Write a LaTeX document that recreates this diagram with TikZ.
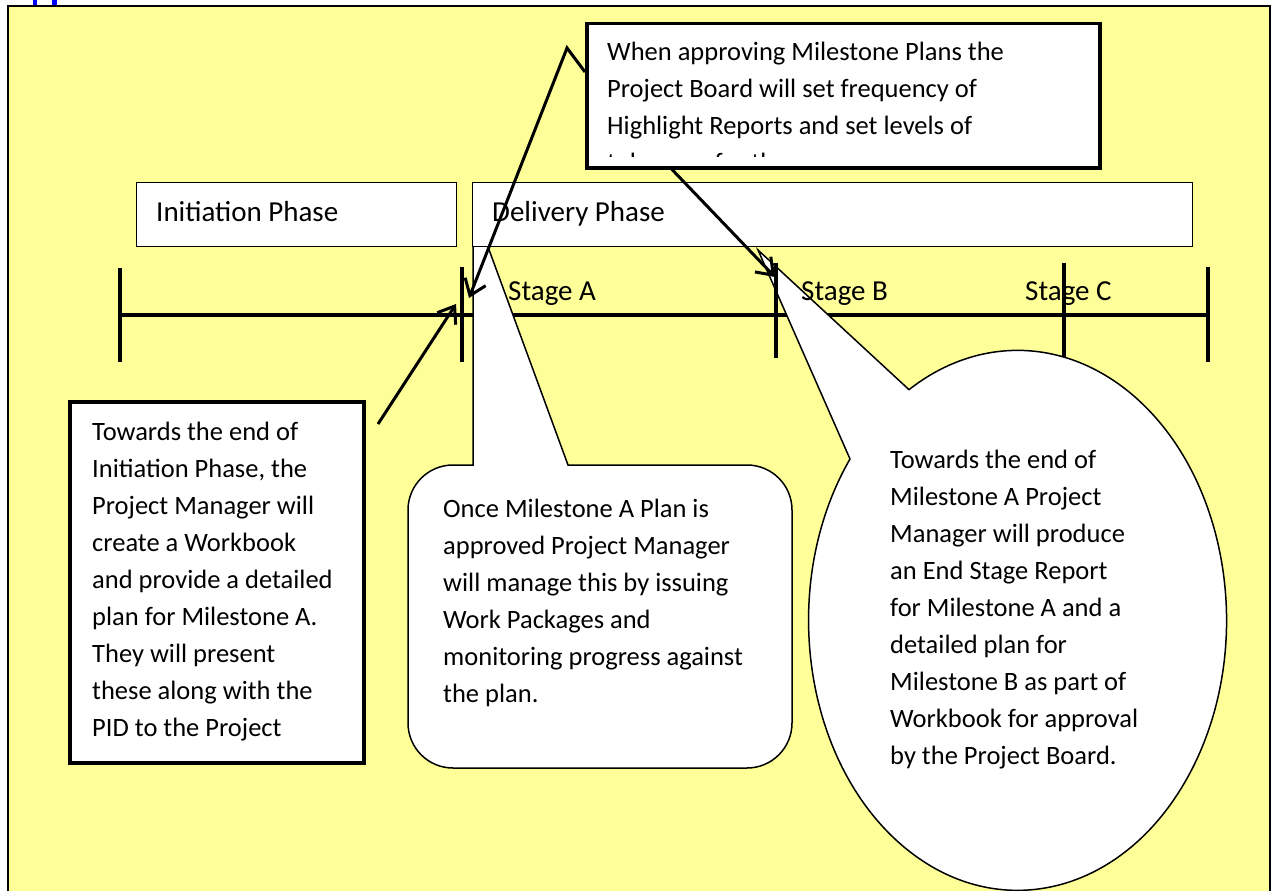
\documentclass[tikz,border=0pt]{standalone}
\usepackage{fontspec}
\setmainfont{Carlito}
\usetikzlibrary{arrows.meta}
\definecolor{paper}{HTML}{FFFF99}
\definecolor{headblue}{HTML}{0000FF}
\begin{document}
\begin{tikzpicture}[x=1pt,y=-1pt,
  txt/.style={font=\fontsize{26.5}{37}\selectfont, align=left, inner sep=0pt, anchor=base west},
  lbl/.style={font=\fontsize{29}{35}\selectfont, inner sep=0pt, anchor=base west},
  phasebox/.style={draw, line width=1.3pt, fill=white, anchor=north west, inner sep=0pt},
  thickbox/.style={draw, line width=3.5pt, fill=white, anchor=north west, inner sep=0pt},
  callout/.style={draw, line width=1.5pt, fill=white},
  axisline/.style={line width=4pt},
  leader/.style={line width=3pt, -{Straight Barb[length=15pt,width=22pt]}},
]
\useasboundingbox (0,0) rectangle (1274,891);
\clip (0,0) rectangle (1274,891);

% page background and frame
\fill[headblue] (32.5,0) rectangle (37,6);
\fill[headblue] (52,0) rectangle (56.5,6);
\draw[fill=paper, line width=2pt] (8,6) rectangle (1270,905);

% timeline (horizontal)
\coordinate (t0) at (120,315);
\coordinate (t4) at (1208,315);
\draw[axisline] (t0) -- (t4);

% rounded callout (anchor = baseline of last line)
\draw[callout] (568,465) -- (747,465) arc[start angle=270, end angle=360, radius=45]
  -- (792,723) arc[start angle=0, end angle=90, radius=45]
  -- (453,768) arc[start angle=90, end angle=180, radius=45]
  -- (408,510) arc[start angle=180, end angle=270, radius=45]
  -- (473,465) -- (473,206) -- cycle;
\node[txt] (onceA) at (443,702) {Once Milestone A Plan is\\approved Project Manager\\will manage this by issuing\\Work Packages and\\monitoring progress against\\the plan.};

% ellipse callout
\draw[callout] (758,250) -- (850,459)
  arc[start angle=216.7, end angle=-121.3, x radius=209, y radius=270] -- cycle;
\node[txt] (endA) at (890,764) {Towards the end of\\Milestone A Project\\Manager will produce\\an End Stage Report\\for Milestone A and a\\detailed plan for\\Milestone B as part of\\Workbook for approval\\by the Project Board.};

% ticks
\draw[axisline] (120,268) -- (120,362);
\draw[axisline] (462,267) -- (462,362);
\draw[axisline] (776,263) -- (776,358);
\draw[axisline] (1064,263) -- (1064,357);
\draw[axisline] (1208,267) -- (1208,362);

% phase boxes
\node[phasebox, minimum width=320pt, minimum height=64pt] (init) at (136,182) {};
\node[phasebox, minimum width=720pt, minimum height=64pt] (deliv) at (472,182) {};
\node[lbl] (initlbl) at (156,221) {Initiation Phase};
\node[lbl] (delivlbl) at (492,221) {Delivery Phase};

% stage labels
\node[lbl] (stA) at (508,300) {Stage A};
\node[lbl] (stB) at (801,300) {Stage B};
\node[lbl] (stC) at (1025,300) {Stage C};

% top note box
\node[thickbox, minimum width=513pt, minimum height=144pt] (topbox) at (585,22) {};
\begin{scope}
  \clip (588,25) rectangle (1095,156);
  \node[txt] (topnote) at (607,171) {When approving Milestone Plans the\\Project Board will set frequency of\\Highlight Reports and set levels of\\tolerance for the};
\end{scope}

% left note box
\node[thickbox, minimum width=294pt, minimum height=361pt] (initnote) at (68,400) {};
\node[txt] (inittext) at (92,736) {Towards the end of\\Initiation Phase, the\\Project Manager will\\create a Workbook\\and provide a detailed\\plan for Milestone A.\\They will present\\these along with the\\PID to the Project};

% leaders
\coordinate (bend1) at (567,48);
\coordinate (tipA) at (469,298);
\coordinate (tipB) at (775,277);
\coordinate (tail3) at (378,424);
\coordinate (tipI) at (456,304);
\draw[leader] ([yshift=-50pt]topbox.north west) -- (bend1) -- (tipA);
\draw[leader] ([xshift=87pt]topbox.south west) -- (tipB);
\draw[leader] (tail3) -- (tipI);
\end{tikzpicture}
\end{document}
